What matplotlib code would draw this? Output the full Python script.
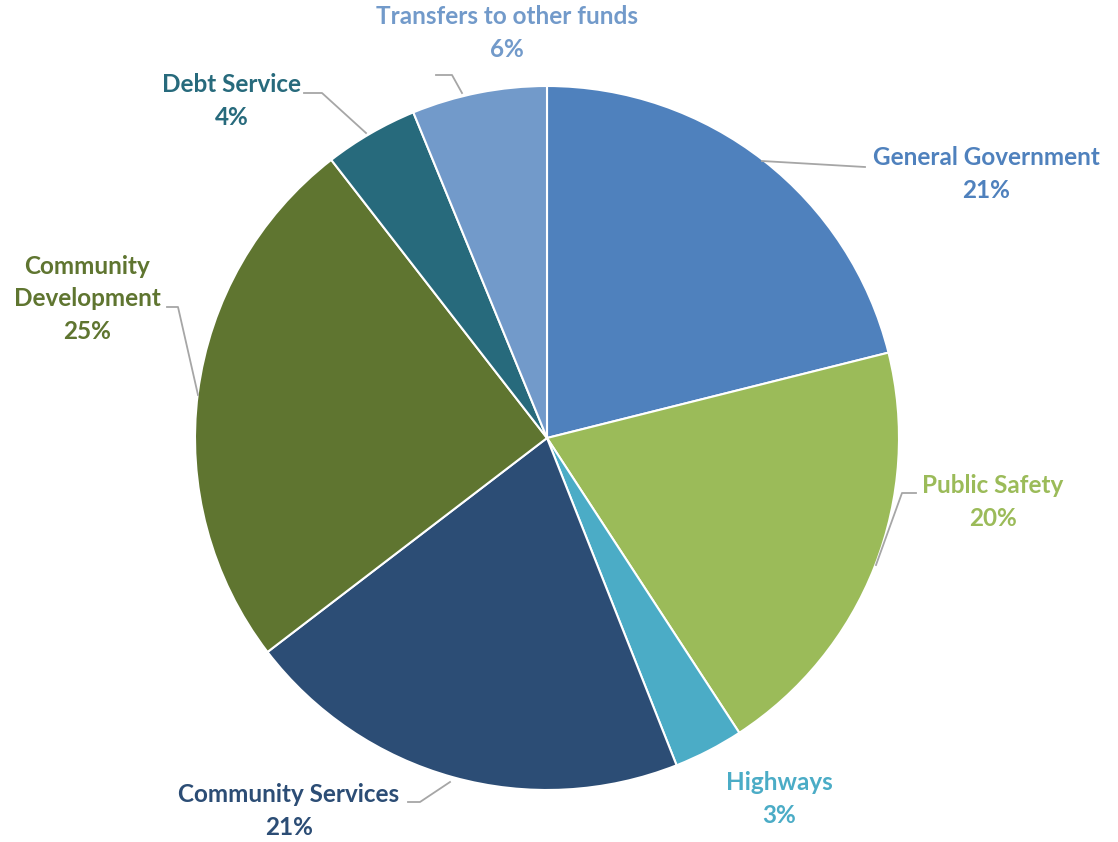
import matplotlib.pyplot as plt

categories = ["General Government", "Public Safety", "Highways", "Community Services",
              "Community\nDevelopment", "Debt Service", "Transfers to other funds"]
values = [21.1, 19.7, 3.2, 20.6, 24.9, 4.3, 6.2]
colors = ["#4F81BD", "#9BBB59", "#4BACC6", "#2C4D75", "#5F7530", "#276A7C", "#729ACA"]

# label centre (px, top-left origin) and leader line points
label_pos = [(986, 174), (993, 502), (779, 799), (289, 811), (87, 299), (232, 101), (507, 33)]
leaders = [
    [(762, 161), (865, 167)],
    [(876, 565), (902, 493), (916, 493)],
    None,
    [(450, 782), (420, 802), (408, 802)],
    [(198, 395), (178, 307), (167, 307)],
    [(366, 133), (322, 93), (304, 93)],
    [(462, 93), (452, 75), (436, 75)],
]

W, H = 1118, 842
fig = plt.figure(figsize=(W / 100, H / 100), dpi=100)
ax = fig.add_axes([0, 0, 1, 1])

cx, cy, r = 547, H - 438, 352
wedges, _ = ax.pie(values, colors=colors, startangle=90, counterclock=False,
                   center=(cx, cy), radius=r, frame=True,
                   wedgeprops=dict(edgecolor="white", linewidth=1.5))
ax.set_xlim(0, W)
ax.set_ylim(0, H)
ax.set_aspect("equal")
ax.axis("off")

for cat, val, col, pos, pts in zip(categories, values, colors, label_pos, leaders):
    ax.text(pos[0], H - pos[1], f"{cat}\n{round(val):.0f}%", ha="center", va="center",
            color=col, fontsize=17.5, fontweight="bold", family="Lato", linespacing=1.5)
    if pts:
        ax.plot([p[0] for p in pts], [H - p[1] for p in pts], color="#A6A6A6", lw=1.3)

fig.savefig("out.png", dpi=100, facecolor="white")
